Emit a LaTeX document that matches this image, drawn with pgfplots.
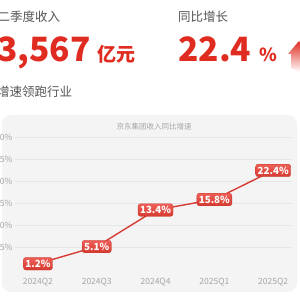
\documentclass[border=0pt]{standalone}
\usepackage{pgfplots}
\pgfplotsset{compat=1.18}
\usepackage{fontspec}
\setmainfont{Noto Sans CJK SC}
\newfontfamily\cjk{Noto Sans CJK SC}
\definecolor{jdred}{HTML}{E02B20}
\definecolor{headgray}{HTML}{555555}
\definecolor{panel}{HTML}{F4F4F4}
\definecolor{gridc}{HTML}{E6E6E6}
\definecolor{tickc}{HTML}{A6A6A6}
\definecolor{ptop}{HTML}{EE5F57}
\definecolor{pbot}{HTML}{D63A30}
\definecolor{linec}{HTML}{D63C35}
\begin{document}
\begin{tikzpicture}[x=1pt,y=1pt]
\path[use as bounding box] (0,0) rectangle (300,300);
\clip (0,0) rectangle (300,300);
\fill[white] (0,0) rectangle (300,300);
% headline texts
\node[anchor=base west, inner sep=0pt, text=headgray, font=\fontsize{12.5}{14}\selectfont] at (-15,278) {第二季度收入};
\node[anchor=base west, inner sep=0pt, text=jdred, font=\fontsize{33.5}{36}\selectfont\bfseries] at (-3,238) {3,567};
\node[anchor=base west, inner sep=0pt, text=jdred, font=\fontsize{19}{21}\selectfont\bfseries] at (97,238) {亿元};
\node[anchor=base west, inner sep=0pt, text=headgray, font=\fontsize{12.5}{14}\selectfont] at (-3,203) {增速领跑行业};
\node[anchor=base west, inner sep=0pt, text=headgray, font=\fontsize{12.5}{14}\selectfont] at (178,278) {同比增长};
\node[anchor=base west, inner sep=0pt, text=jdred, font=\fontsize{33.5}{36}\selectfont\bfseries] at (178,238) {22.4};
\node[anchor=base west, inner sep=0pt, text=jdred, font=\fontsize{18}{20}\selectfont\bfseries] at (259,238) {\%};
% arrow decoration
\shade[top color=jdred, bottom color=white] (291,232) -- (291,246) -- (288,246) -- (299,259) -- (306,246) -- (300,246) -- (300,228) -- cycle;
% panel
\fill[panel, rounded corners=9pt] (2,8) rectangle (297,185);
\node[text=tickc, font=\fontsize{7.5}{9}\selectfont] at (154,173) {京东集团收入同比增速};
\begin{axis}[
  at={(15pt,31pt)}, anchor=south west,
  scale only axis, width=277pt, height=132pt,
  xmin=-0.39, xmax=4.32, ymin=0, ymax=30,
  axis line style={draw=none},
  tick style={draw=none},
  ytick={5,10,15,20,25,30},
  ymajorgrids, major grid style={gridc, line width=0.6pt},
  xtick={0,1,2,3,4},
  xticklabels={2024Q2,2024Q3,2024Q4,2025Q1,2025Q2},
  /pgf/number format/assume math mode=true,
  ticklabel style={text=tickc, font=\fontsize{8.5}{10}\selectfont},
  yticklabel={\pgfmathprintnumber{\tick}\%},
  yticklabel style={xshift=1pt},
  xticklabel style={yshift=-5.5pt},
  clip=false,
]
\addplot[linec, line width=1.4pt, mark=none,
  nodes near coords={\pgfmathprintnumber[fixed,precision=1,fixed zerofill]{\pgfplotspointmeta}\%},
  point meta=explicit,
  nodes near coords style={anchor=center, top color=ptop, bottom color=pbot, draw=pbot!90!black, line width=0.3pt, rounded corners=2.5pt, text=white, inner xsep=2pt, inner ysep=2.5pt, font=\fontsize{9.8}{11}\selectfont\bfseries},
] coordinates {
  (0,1.2) [1.2]
  (1,5.1) [5.1]
  (2,13.4) [13.4]
  (3,15.8) [15.8]
  (4,22.4) [22.4]
};
\end{axis}
\end{tikzpicture}
\end{document}
